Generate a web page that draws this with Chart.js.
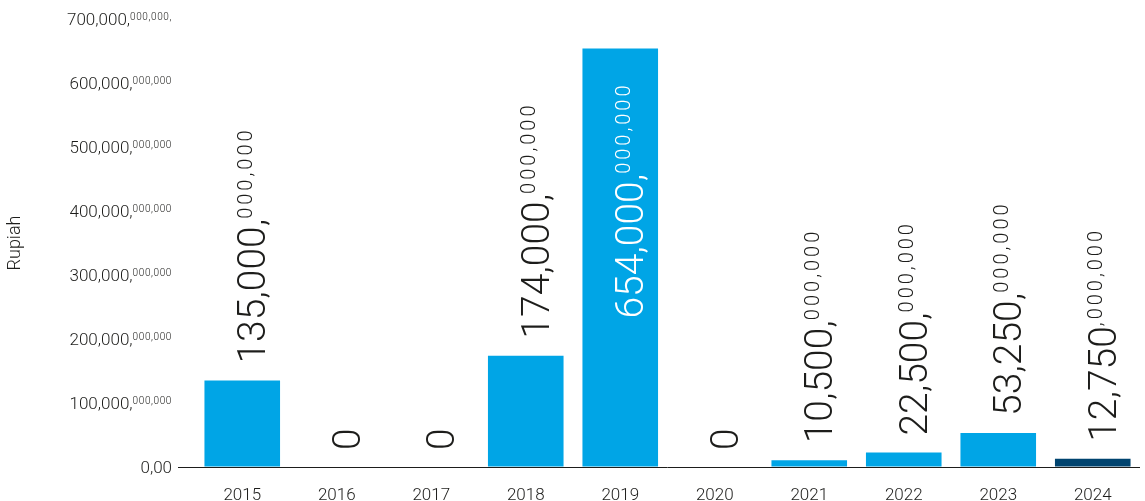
<!DOCTYPE html>
<html>
<head>
<meta charset="utf-8">
<script src="https://cdn.jsdelivr.net/npm/chart.js@4/dist/chart.umd.min.js"></script>
<style>
  html, body { margin: 0; padding: 0; background: #fff; overflow: hidden; }
  #wrap { width: 1145px; height: 501px; position: relative; }
</style>
</head>
<body>
<div id="wrap"><canvas id="c"></canvas></div>
<script>
// Annual amounts in rupiah
const years = ['2015', '2016', '2017', '2018', '2019', '2020', '2021', '2022', '2023', '2024'];
const amounts = [135e9, 0, 0, 174e9, 654e9, 0, 10.5e9, 22.5e9, 53.25e9, 12.75e9];

// Value labels: large leading part + small raised trailing part
const amountMain = ['135,000,', '0', '0', '174,000,', '654,000,', '0', '10,500,', '22,500,', '53,250,', '12,750'];
const amountSup = ['000,000', '', '', '000,000', '000,000', '', '000,000', '000,000', '000,000', ',000,000'];

// Y axis ticks
const yTickValues = [0, 100e9, 200e9, 300e9, 400e9, 500e9, 600e9, 700e9];
const yTickMain = ['0,00', '100,000,', '200,000,', '300,000,', '400,000,', '500,000,', '600,000,', '700,000,'];
const yTickSup = ['', '000,000', '000,000', '000,000', '000,000', '000,000', '000,000', '000,000,'];

const FONT = 'Roboto, "Noto Sans", sans-serif';
const WEIGHT = '300';
const INK = '#1d1d1b';
const BLUE = '#00a5e6';
const NAVY = '#00446f';
const CAP = 0.711; // cap-height ratio of the face

function setFont(ctx, px) {
  ctx.font = WEIGHT + ' ' + px + 'px ' + FONT;
}

function drawSplit(ctx, x, y, main, sup, bigPx, smallPx, spacing, color) {
  // draws main text at baseline (x,y), then a raised smaller run aligned to cap tops
  ctx.fillStyle = color;
  ctx.textAlign = 'left';
  ctx.textBaseline = 'alphabetic';
  setFont(ctx, bigPx);
  ctx.letterSpacing = '0px';
  ctx.fillText(main, x, y);
  const w = ctx.measureText(main).width;
  if (sup) {
    setFont(ctx, smallPx);
    ctx.letterSpacing = spacing + 'px';
    ctx.fillText(sup, x + w, y - bigPx * CAP + smallPx * CAP);
    ctx.letterSpacing = '0px';
  }
}

function splitWidth(ctx, main, sup, bigPx, smallPx, spacing) {
  setFont(ctx, bigPx);
  ctx.letterSpacing = '0px';
  let w = ctx.measureText(main).width;
  if (sup) {
    setFont(ctx, smallPx);
    ctx.letterSpacing = spacing + 'px';
    w += ctx.measureText(sup).width;
    ctx.letterSpacing = '0px';
  }
  return w;
}

const yLabelPlugin = {
  id: 'yLabels',
  afterDraw(chart) {
    const ctx = chart.ctx;
    const ys = chart.scales.y;
    const right = 172;
    ctx.save();
    yTickValues.forEach((v, i) => {
      const py = ys.getPixelForValue(v);
      const big = 17, small = 10, sp = 0.6;
      const w = splitWidth(ctx, yTickMain[i], yTickSup[i], big, small, sp);
      drawSplit(ctx, right - w, py + big * CAP / 2, yTickMain[i], yTickSup[i], big, small, sp, INK);
    });
    ctx.restore();
  }
};

const valueLabelPlugin = {
  id: 'valueLabels',
  afterDatasetsDraw(chart) {
    const ctx = chart.ctx;
    const meta = chart.getDatasetMeta(0);
    const top = chart.chartArea.top;
    const big = 39, small = 20, sp = 3;
    ctx.save();
    meta.data.forEach((bar, i) => {
      const main = amountMain[i], sup = amountSup[i];
      const len = splitWidth(ctx, main, sup, big, small, sp);
      const gap = 17;
      let startY, color;
      if (bar.y - gap - len < top) {
        // no room above: run the label inside the bar, in white
        startY = bar.y + 34 + len;
        color = '#ffffff';
      } else {
        startY = bar.y - gap;
        color = INK;
      }
      ctx.save();
      ctx.translate(bar.x + 23, startY);
      ctx.rotate(-Math.PI / 2);
      drawSplit(ctx, 0, 0, main, sup, big, small, sp, color);
      ctx.restore();
    });
    ctx.restore();
  }
};

new Chart(document.getElementById('c'), {
  type: 'bar',
  data: {
    labels: years,
    datasets: [{
      data: amounts,
      backgroundColor: (c) => (years[c.dataIndex] === '2024' ? NAVY : BLUE),
      borderWidth: 0,
      categoryPercentage: 0.8,
      barPercentage: 1.0
    }]
  },
  options: {
    responsive: true,
    maintainAspectRatio: false,
    animation: false,
    layout: { padding: { top: 19, right: 5, left: 0, bottom: 0 } },
    plugins: {
      legend: { display: false },
      tooltip: { enabled: false }
    },
    scales: {
      x: {
        grid: { display: false },
        border: { display: false },
        ticks: {
          color: INK,
          font: { family: FONT, size: 17, weight: WEIGHT },
          padding: 11,
          maxRotation: 0
        },
        afterFit(s) { s.height = 34; }
      },
      y: {
        min: 0,
        max: 700e9,
        afterBuildTicks(s) { s.ticks = yTickValues.map(v => ({ value: v })); },
        ticks: {
          color: 'rgba(0,0,0,0)',
          font: { family: FONT, size: 17 },
          callback: (v, i) => yTickMain[i] + yTickSup[i]
        },
        grid: {
          color: (c) => (c.tick && c.tick.value === 0 ? INK : 'rgba(0,0,0,0)'),
          lineWidth: 1,
          drawTicks: true,
          tickLength: 17
        },
        border: { display: false },
        title: {
          display: true,
          text: 'Rupiah',
          color: INK,
          font: { family: FONT, size: 18, weight: WEIGHT },
          padding: { top: 5, bottom: 0 }
        },
        afterFit(s) { s.width = 195; }
      }
    }
  },
  plugins: [yLabelPlugin, valueLabelPlugin]
});
</script>
</body>
</html>
